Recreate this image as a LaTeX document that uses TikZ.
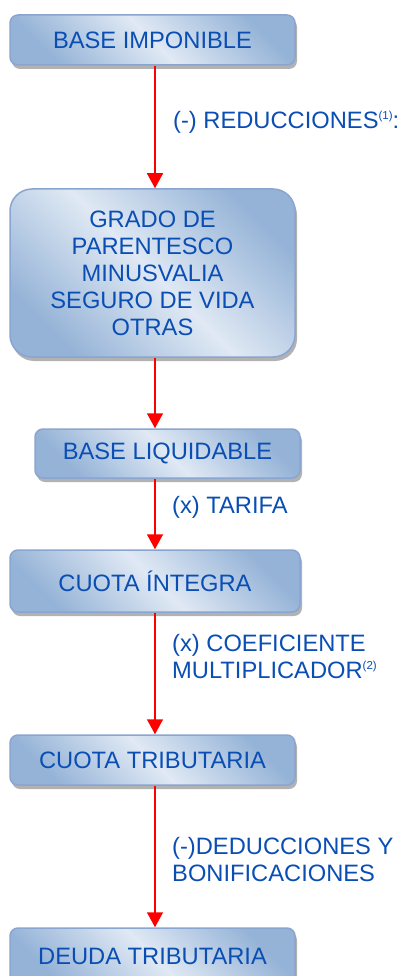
\documentclass[tikz,border=0pt]{standalone}
\usepackage{fontspec}
\setmainfont{Liberation Sans}
\usetikzlibrary{arrows.meta,positioning,calc,shadows}
\definecolor{txtblue}{RGB}{10,78,180}
\definecolor{boxdark}{RGB}{149,179,215}
\definecolor{boxlight}{RGB}{224,233,244}
\definecolor{boxline}{RGB}{137,165,208}
\newcommand{\nota}[1]{\raisebox{9pt}{\fontsize{11.5}{11.5}\selectfont(#1)}}

\begin{document}
\begin{tikzpicture}[x=1pt, y=-1pt,
    every node/.style={font=\fontsize{23.7}{27}\selectfont, text=txtblue},
    caja/.style={draw=boxline, line width=1.5pt, rounded corners=8pt,
      top color=boxdark, bottom color=boxdark, middle color=boxlight, shading angle=-45,
      drop shadow={shadow xshift=2pt, shadow yshift=-4pt, fill=gray!60, opacity=1},
      minimum height=50pt, minimum width=285pt, inner sep=0pt, align=center},
    paso/.style={anchor=west, align=left, inner sep=0pt},
    flecha/.style={draw=red, line width=1.5pt, -{Triangle[width=16pt,length=15pt]}}]
    \useasboundingbox (0,0) rectangle (403,976);
    \coordinate (eje) at (155,0);

    % cajas
    \node[caja] (b1) at (152.5,40) {BASE IMPONIBLE};
    \node[caja, minimum height=168pt, rounded corners=22pt] (b2) at (152.5,273)
        {GRADO DE\\PARENTESCO\\MINUSVALIA\\SEGURO DE VIDA\\OTRAS};
    \node[caja, minimum width=265pt, minimum height=49pt] (b3) at (167.5,453.5) {BASE LIQUIDABLE};
    \node[caja, minimum width=290pt, minimum height=62pt] (b4) at (155,581) {CUOTA ÍNTEGRA};
    \node[caja] (b5) at (152.5,760) {CUOTA TRIBUTARIA};
    \node[caja, minimum height=56pt] (b6) at (152.5,956) {DEUDA TRIBUTARIA};

    % flechas
    \draw[flecha] (b1.south -| eje) -- (b2.north -| eje);
    \draw[flecha] (b2.south -| eje) -- (b3.north -| eje);
    \draw[flecha] (b3.south -| eje) -- (b4.north -| eje);
    \draw[flecha] (b4.south -| eje) -- (b5.north -| eje);
    \draw[flecha] (b5.south -| eje) -- (b6.north -| eje);

    % operaciones
    \node[paso] (l1) at (173,122) {(-) REDUCCIONES\nota{1}:};
    \node[paso] (l2) at (172,507) {(x) TARIFA};
    \node[paso] (l3) at (172,657) {(x) COEFICIENTE\\MULTIPLICADOR\nota{2}};
    \node[paso] (l4) at (172,860) {(-)DEDUCCIONES Y\\BONIFICACIONES};
\end{tikzpicture}
\end{document}
